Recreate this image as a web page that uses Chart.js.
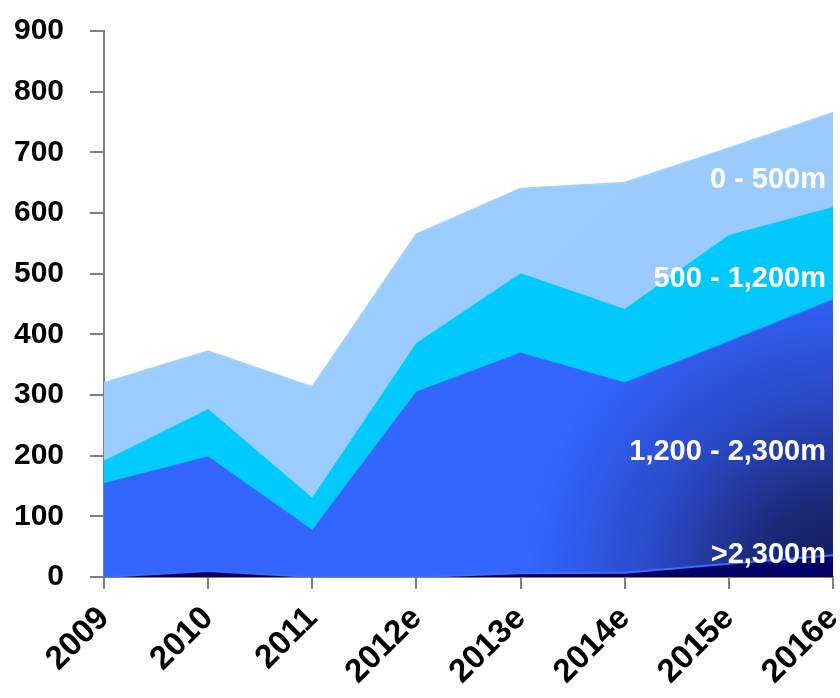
<!DOCTYPE html>
<html>
<head>
<meta charset="utf-8">
<script src="https://cdn.jsdelivr.net/npm/chart.js@4"></script>
<style>
    html, body { margin: 0; padding: 0; background: #ffffff; }
    #wrap { width: 840px; height: 698px; }
</style>
</head>
<body>
<div id="wrap"><canvas id="depthChart" width="840" height="698"></canvas></div>
<script>
// Du lieu doc tu hinh
var _labels = ['2009', '2010', '2011', '2012e', '2013e', '2014e', '2015e', '2016e'];
var _over2300 = [0, 10, 0, 0, 6, 7, 22, 36];
var _d1200_2300 = [154, 188, 77, 305, 363, 313, 366, 421];
var _d500_1200 = [37, 78, 53, 80, 131, 121, 175, 152];
var _d0_500 = [129, 96, 183, 180, 140, 209, 144, 156];
var _yTicks = [0, 100, 200, 300, 400, 500, 600, 700, 800, 900];

// Nhan ben phai bieu do: ten va gia tri y de dat chu
var _seriesNames = ['>2,300m', '1,200 - 2,300m', '500 - 1,200m', '0 - 500m'];
var _nameAtValue = [37, 206, 492, 655];

var _font = 'Liberation Sans, Arial, sans-serif';

function makeGradient(context, stops, solid, from) {
    var chart = context.chart;
    var ca = chart.chartArea;
    if (!ca) {
        return solid;
    }
    var w = ca.right - ca.left;
    var h = ca.bottom - ca.top;
    var g = chart.ctx.createLinearGradient(ca.left + w * from[0], ca.top + h * from[1], ca.right, ca.bottom);
    stops.forEach(function (s) {
        g.addColorStop(s[0], s[1]);
    });
    return g;
}

// Mau xanh dam dan o goc duoi ben phai
function cornerShade(context) {
    var chart = context.chart;
    var ca = chart.chartArea;
    if (!ca) {
        return '#3366ff';
    }
    var g = chart.ctx.createRadialGradient(ca.right, ca.bottom, 0, ca.right, ca.bottom, 380);
    g.addColorStop(0, '#131a58');
    g.addColorStop(0.2, '#1b2978');
    g.addColorStop(0.45, '#2a47c2');
    g.addColorStop(0.8, '#3366ff');
    g.addColorStop(1, '#3366ff');
    return g;
}

var seriesLabelsPlugin = {
    id: 'seriesLabels',
    afterDatasetsDraw: function (chart) {
        var ctx = chart.ctx;
        var x = chart.scales.x.getPixelForValue(_labels.length - 1) - 7;
        ctx.save();
        ctx.font = 'bold 29px ' + _font;
        ctx.fillStyle = '#ffffff';
        ctx.textAlign = 'right';
        ctx.textBaseline = 'middle';
        for (var i = 0; i < _seriesNames.length; i++) {
            ctx.fillText(_seriesNames[i], x, chart.scales.y.getPixelForValue(_nameAtValue[i]));
        }
        ctx.restore();
    }
};

function renderDoThi() {
    var ctx = document.getElementById('depthChart').getContext('2d');
    new Chart(ctx, {
        type: 'line',
        data: {
            labels: _labels,
            datasets: [{
                label: _seriesNames[0],
                data: _over2300,
                fill: 'origin',
                backgroundColor: '#000066',
                borderColor: '#3a6cff',
                borderWidth: 2
            }, {
                label: _seriesNames[1],
                data: _d1200_2300,
                fill: '-1',
                backgroundColor: cornerShade,
                borderColor: '#3366ff',
                borderWidth: 1
            }, {
                label: _seriesNames[2],
                data: _d500_1200,
                fill: '-1',
                backgroundColor: function (c) {
                    return makeGradient(c, [[0, '#00ccff'], [0.6, '#00c8fb'], [1, '#00b8e8']], '#00ccff', [0.4, 0.2]);
                },
                borderColor: '#00ccff',
                borderWidth: 1
            }, {
                label: _seriesNames[3],
                data: _d0_500,
                fill: '-1',
                backgroundColor: function (c) {
                    return makeGradient(c, [[0, '#9ccdff'], [0.5, '#9acbfc'], [1, '#90c0f0']], '#99ccff', [0.4, 0.2]);
                },
                borderColor: '#a3d0ff',
                borderWidth: 2
            }]
        },
        options: {
            responsive: false,
            animation: false,
            layout: { padding: { top: 31, right: 7, left: 0, bottom: 0 } },
            elements: {
                point: { radius: 0, hoverRadius: 0 },
                line: { tension: 0 }
            },
            plugins: {
                legend: { display: false },
                tooltip: { enabled: false }
            },
            scales: {
                x: {
                    offset: false,
                    grid: {
                        display: true,
                        drawOnChartArea: false,
                        drawTicks: true,
                        tickLength: 12,
                        color: '#808080',
                        lineWidth: 2
                    },
                    border: { display: true, color: '#808080', width: 2 },
                    ticks: {
                        color: '#000000',
                        font: { family: _font, size: 33, weight: 'bold' },
                        maxRotation: 45,
                        minRotation: 45,
                        padding: 10,
                        autoSkip: false
                    },
                    afterFit: function (scale) {
                        scale.height = 121;
                        scale.paddingLeft = 0;
                        scale.paddingRight = 0;
                    }
                },
                y: {
                    stacked: true,
                    min: 0,
                    max: 900,
                    afterBuildTicks: function (scale) {
                        scale.ticks = _yTicks.map(function (v) { return { value: v }; });
                    },
                    grid: {
                        display: true,
                        drawOnChartArea: false,
                        drawTicks: true,
                        tickLength: 14,
                        color: '#808080',
                        lineWidth: 2
                    },
                    border: { display: true, color: '#808080', width: 2 },
                    ticks: {
                        color: '#000000',
                        font: { family: _font, size: 30, weight: 'bold' },
                        padding: 26
                    },
                    afterFit: function (scale) {
                        scale.width = 104;
                        scale.paddingTop = 0;
                        scale.paddingBottom = 0;
                    }
                }
            }
        },
        plugins: [seriesLabelsPlugin]
    });
}

renderDoThi();
</script>
</body>
</html>
